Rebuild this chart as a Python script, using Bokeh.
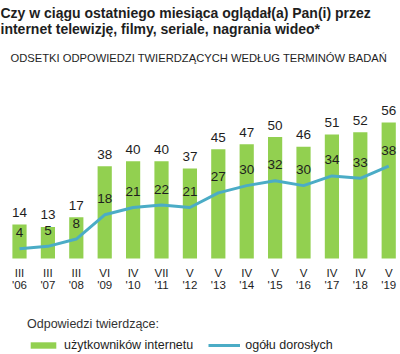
from bokeh.plotting import figure
from bokeh.models import ColumnDataSource, Label, Legend, LegendItem
from bokeh.core.properties import value
from bokeh.embed import file_html
from bokeh.resources import INLINE

# ---- data ----
tick_months = ["III", "III", "III", "VI", "IV", "VII", "V", "V", "IV", "V", "V", "IV", "IV", "V"]
tick_years = ["'06", "'07", "'08", "'09", "'10", "'11", "'12", "'13", "'14", "'15", "'16", "'17", "'18", "'19"]
internet_users = [14, 13, 17, 38, 40, 40, 37, 45, 47, 50, 46, 51, 52, 56]
all_adults = [4, 5, 8, 18, 21, 22, 21, 27, 30, 32, 30, 34, 33, 38]

title_1 = "Czy w ciągu ostatniego miesiąca oglądał(a) Pan(i) przez"
title_2 = "internet telewizję, filmy, seriale, nagrania wideo*"
subtitle = "ODSETKI ODPOWIEDZI TWIERDZĄCYCH  WEDŁUG TERMINÓW BADAŃ"
legend_title = "Odpowiedzi twierdzące:"
series_names = ["użytkowników internetu", "ogółu dorosłych"]

GREEN = "#92D050"
BLUE = "#4BACC6"
TXT = "#1e1e1e"
FONT = "Liberation Sans"

idx = list(range(len(tick_months)))
src = ColumnDataSource(dict(
    x=idx, months=tick_months, years=tick_years,
    inet=internet_users, adults=all_adults,
    inet_lbl=[str(v) for v in internet_users],
    adult_lbl=[str(v) for v in all_adults],
    zero=[0] * len(idx),
))

W, H = 400, 354
p = figure(width=W, height=H, output_backend="svg", toolbar_location=None,
           x_range=(-0.669, 13.415), y_range=(-39.5, 106.17),
           x_axis_type=None, y_axis_type=None, min_border=0,
           outline_line_color=None, background_fill_color="white",
           border_fill_color="white")
p.grid.visible = False

bars = p.vbar(x="x", top="inet", width=0.5, bottom=0, source=src,
              fill_color=GREEN, line_color=None)
line = p.line(x="x", y="adults", source=src, line_color=BLUE, line_width=3,
              line_join="round")

common = dict(text_font=value(FONT), text_color=TXT, text_align="center",
              text_baseline="middle")
p.text(x="x", y="inet", text="inet_lbl", source=src, y_offset=-12,
       text_font_size="13.5px", **common)
p.text(x="x", y="adults", text="adult_lbl", source=src, y_offset=-16,
       text_font_size="13.5px", **common)
p.text(x="x", y="zero", text="months", source=src, y_offset=14,
       text_font_size="11.5px", **common)
p.text(x="x", y="zero", text="years", source=src, y_offset=26,
       text_font_size="11.5px", **common)

# titles
p.add_layout(Label(x=0, y=H - 12, x_units="screen", y_units="screen", text=title_1,
                   text_font=FONT, text_font_size="14px", text_font_style="bold",
                   text_color=TXT, text_baseline="alphabetic"))
p.add_layout(Label(x=0, y=H - 28.5, x_units="screen", y_units="screen", text=title_2,
                   text_font=FONT, text_font_size="14px", text_font_style="bold",
                   text_color=TXT, text_baseline="alphabetic"))
p.add_layout(Label(x=10, y=H - 57, x_units="screen", y_units="screen", text=subtitle,
                   text_font=FONT, text_font_size="11.2px",
                   text_color=TXT, text_baseline="alphabetic"))

legend = Legend(items=[LegendItem(label=series_names[0], renderers=[bars]),
                       LegendItem(label=series_names[1], renderers=[line])],
                location=(27, 2), orientation="horizontal",
                title=legend_title, title_text_font=FONT, title_text_font_size="12.5px",
                title_text_font_style="normal", title_text_color="#333333",
                title_standoff=7,
                label_text_font=FONT, label_text_font_size="12.5px", label_text_color=TXT,
                glyph_width=32, glyph_height=8, label_height=12, label_standoff=5,
                spacing=15, padding=0, margin=0,
                border_line_alpha=0, background_fill_alpha=0)
p.add_layout(legend)

open("out.html", "w").write(file_html(p, INLINE))
